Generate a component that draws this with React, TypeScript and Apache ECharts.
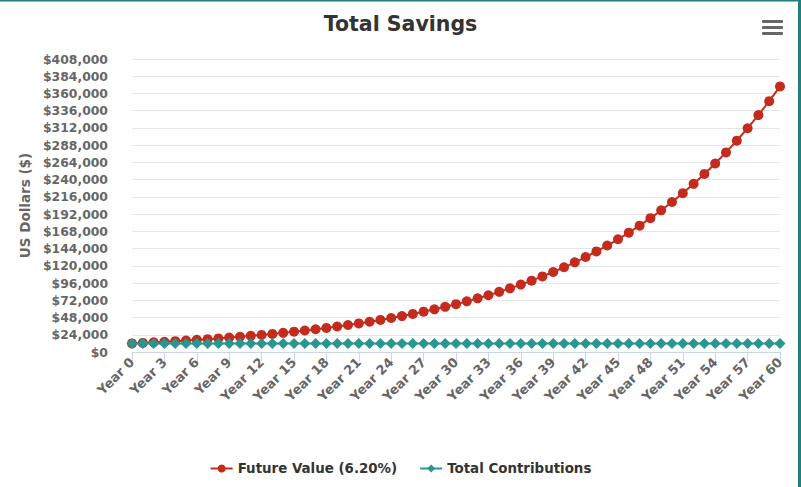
import React, { useEffect, useRef } from "react";
import * as echarts from "echarts";

const years: string[] = Array.from({ length: 61 }, (_, i) => `Year ${i}`);

const futureValue: number[] = [
  12000, 12706, 13453, 14244, 15081, 15968, 16907, 17901, 18954, 20068,
  21248, 22498, 23821, 25221, 26704, 28274, 29937, 31697, 33561, 35534,
  37624, 39836, 42179, 44659, 47285, 50065, 53009, 56126, 59426, 62920,
  66620, 70537, 74685, 79076, 83726, 88649, 93862, 99381, 105224, 111411,
  117963, 124899, 132243, 140019, 148252, 156969, 166199, 175971, 186318, 197274,
  208873, 221155, 234159, 247928, 262506, 277941, 294284, 311588, 329909, 349308,
  369847,
];

const totalContributions: number[] = [
  12000, 12000, 12000, 12000, 12000, 12000, 12000, 12000, 12000, 12000,
  12000, 12000, 12000, 12000, 12000, 12000, 12000, 12000, 12000, 12000,
  12000, 12000, 12000, 12000, 12000, 12000, 12000, 12000, 12000, 12000,
  12000, 12000, 12000, 12000, 12000, 12000, 12000, 12000, 12000, 12000,
  12000, 12000, 12000, 12000, 12000, 12000, 12000, 12000, 12000, 12000,
  12000, 12000, 12000, 12000, 12000, 12000, 12000, 12000, 12000, 12000,
  12000,
];

const FONT = "'DejaVu Sans', Verdana, sans-serif";

export default function App() {
  const ref = useRef<HTMLDivElement>(null);
  useEffect(() => {
    document.body.style.margin = "0";
    const chart = echarts.init(ref.current!, undefined, { renderer: "svg" });
    chart.setOption({
      animation: false,
      backgroundColor: "#ffffff",
      title: {
        text: "Total Savings",
        left: "center",
        top: 8,
        textStyle: { fontFamily: FONT, fontSize: 20.5, fontWeight: "bold", color: "#333333" },
      },
      legend: {
        bottom: 7,
        left: "center",
        itemGap: 22,
        itemWidth: 22,
        itemHeight: 10,
        textStyle: { fontFamily: FONT, fontSize: 13.4, fontWeight: "bold", color: "#333333" },
        data: ["Future Value (6.20%)", "Total Contributions"],
      },
      grid: { left: 132, right: 21, top: 59, bottom: 135 },
      xAxis: {
        type: "category",
        data: years,
        boundaryGap: false,
        axisLine: { lineStyle: { color: "#ccd6eb", width: 1 } },
        axisTick: { interval: 2, length: 9, lineStyle: { color: "#ccd6eb" } },
        axisLabel: {
          interval: 2,
          rotate: 45,
          margin: 8,
          fontFamily: FONT,
          fontSize: 13,
          fontWeight: "bold",
          color: "#666666",
        },
        splitLine: { show: false },
      },
      yAxis: {
        type: "value",
        min: 0,
        max: 408000,
        interval: 24000,
        name: "US Dollars ($)",
        nameLocation: "middle",
        nameGap: 98,
        nameTextStyle: { fontFamily: FONT, fontSize: 13.5, fontWeight: "bold", color: "#666666" },
        axisLine: { show: false },
        axisTick: { show: false },
        axisLabel: {
          margin: 24,
          fontFamily: FONT,
          fontSize: 12.4,
          fontWeight: "bold",
          color: "#666666",
          formatter: (v: number) => "$" + v.toLocaleString("en-US"),
        },
        splitLine: { lineStyle: { color: "#e6e6e6", width: 1 } },
      },
      series: [
        {
          name: "Future Value (6.20%)",
          type: "line",
          data: futureValue,
          symbol: "circle",
          symbolSize: 10,
          showAllSymbol: true,
          itemStyle: { color: "#c42b1c" },
          lineStyle: { color: "#c42b1c", width: 2 },
          z: 2,
        },
        {
          name: "Total Contributions",
          type: "line",
          data: totalContributions,
          symbol: "diamond",
          symbolSize: 11,
          showAllSymbol: true,
          itemStyle: { color: "#2a9690" },
          lineStyle: { color: "#2a9690", width: 2 },
          z: 3,
        },
      ],
      graphic: [
        { type: "rect", left: 0, top: 0, shape: { width: 801, height: 1.5 }, style: { fill: "#1f7f7a" } },
        { type: "rect", right: 0, top: 0, shape: { width: 3, height: 487 }, style: { fill: "#1f7f7a" } },
        { type: "rect", left: 762, top: 20, shape: { width: 21, height: 3, r: 1 }, style: { fill: "#666666" } },
        { type: "rect", left: 762, top: 26, shape: { width: 21, height: 3, r: 1 }, style: { fill: "#666666" } },
        { type: "rect", left: 762, top: 32, shape: { width: 21, height: 3, r: 1 }, style: { fill: "#666666" } },
      ],
    });
    return () => chart.dispose();
  }, []);
  return <div ref={ref} style={{ position: "absolute", left: 0, top: 0, width: 801, height: 487 }} />;
}
